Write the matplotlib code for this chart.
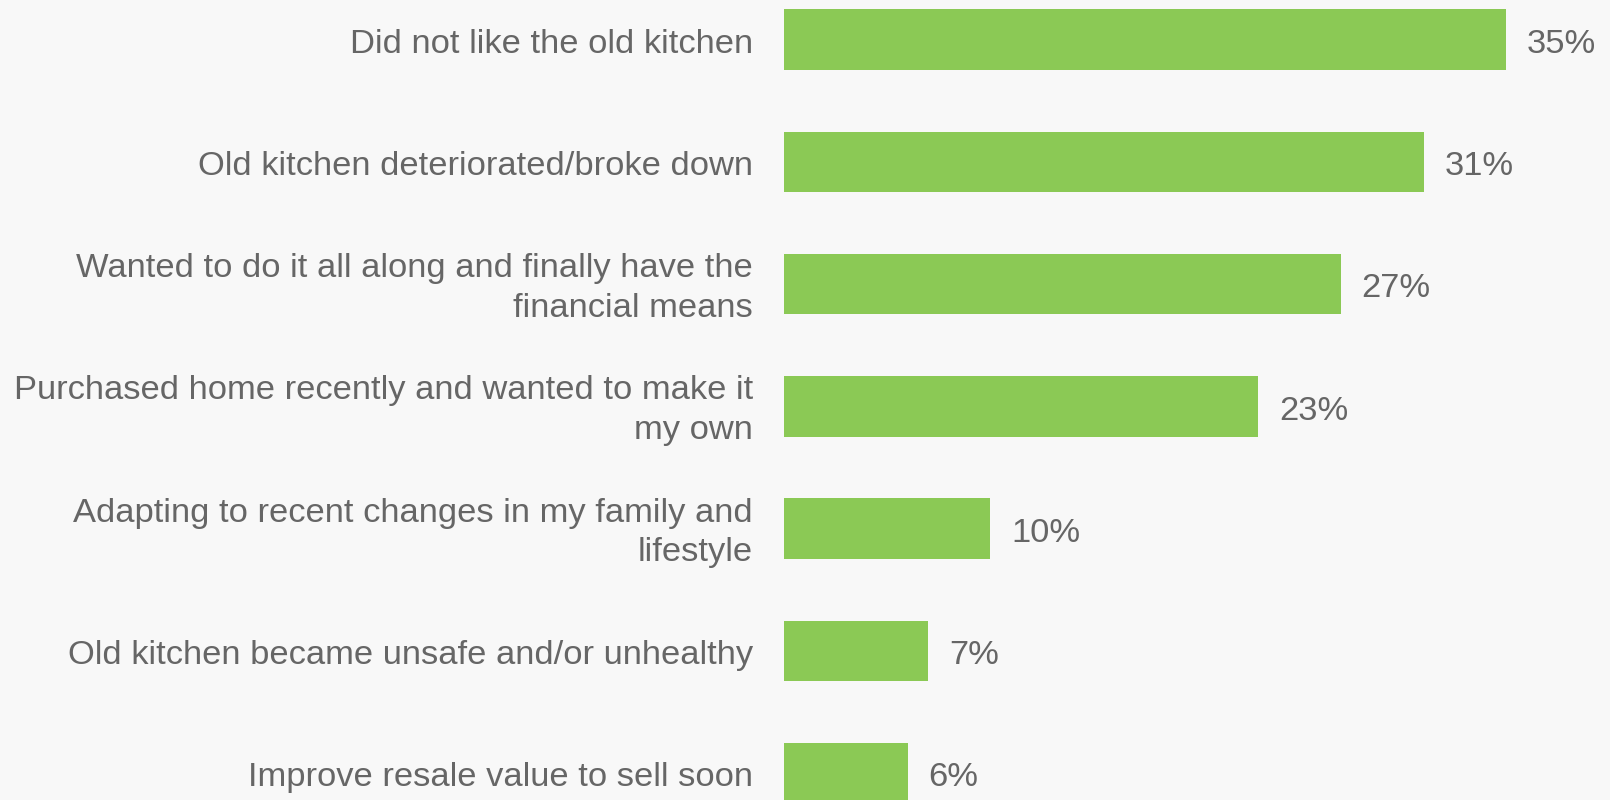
import matplotlib.pyplot as plt

plt.rcParams['font.family'] = ['Liberation Sans', 'DejaVu Sans']

## Data
reasons = [
    'Did not like the old kitchen',
    'Old kitchen deteriorated/broke down',
    'Wanted to do it all along and finally have the\nfinancial means',
    'Purchased home recently and wanted to make it\nmy own',
    'Adapting to recent changes in my family and\nlifestyle',
    'Old kitchen became unsafe and/or unhealthy',
    'Improve resale value to sell soon',
]
shares = [35, 31, 27, 23, 10, 7, 6]

bg = '#f8f8f8'
bar_color = '#8bc955'
text_color = '#666666'
fs = 24.8

fig = plt.figure(figsize=(16.1, 8.0), dpi=100, facecolor=bg)
ax = fig.add_axes([784/1610, 0, 826/1610, 1])
ax.set_facecolor(bg)

ypos = list(range(len(reasons)))
ax.barh(ypos, shares, height=0.495, color=bar_color)

# value labels
for y, v in zip(ypos, shares):
    ax.annotate('%d%%' % v, xy=(v, y), xytext=(14.9, -9.6), textcoords='offset points',
                va='baseline', ha='left', fontsize=fs, color=text_color)

# category labels (baseline of the last line is placed, so wrapped ones go lower)
for y, lab in zip(ypos, reasons):
    nlines = lab.count('\n') + 1
    dy = -9.4 - 14.0 * (nlines - 1)
    ax.annotate(lab, xy=(0, y), xytext=(-22.5, dy), textcoords='offset points',
                va='baseline', ha='right', multialignment='right', linespacing=1.35,
                fontsize=fs, color=text_color, annotation_clip=False)

ax.set_xticks([])
ax.set_yticks([])
ax.set_xlim(0, 826/20.63)
ax.set_ylim(6.221, -0.325)
for s in ax.spines.values():
    s.set_visible(False)

fig.savefig('out.png', dpi=100, facecolor=bg)
